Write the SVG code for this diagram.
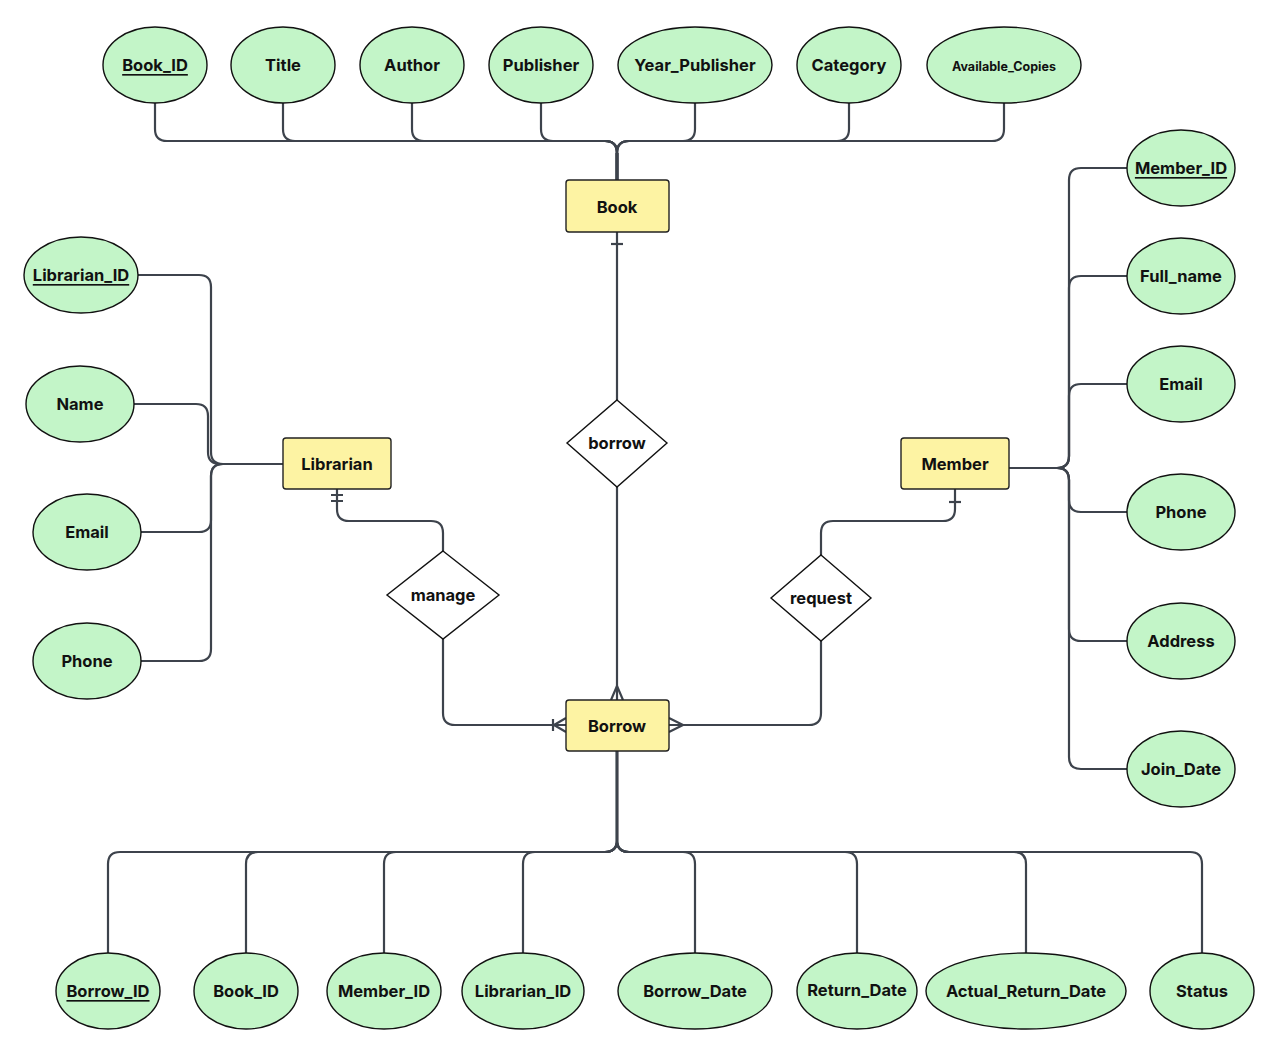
<svg xmlns="http://www.w3.org/2000/svg" width="1280" height="1055" viewBox="0 0 1280 1055">
<style>
.conn{fill:none;stroke:#3d434c;stroke-width:2.2;stroke-linejoin:round}
.attr ellipse{fill:#c3f5c8;stroke:#111;stroke-width:1.4}
.ent rect{fill:#fdf3a3;stroke:#222;stroke-width:1.4}
.rel polygon{fill:#fff;stroke:#111;stroke-width:1.4}
text{font-family:Inter,"Liberation Sans",sans-serif;font-weight:700;font-size:16.5px;fill:#111;text-anchor:middle;dominant-baseline:central}
.key{text-decoration:underline}
.small{font-size:12.5px}
</style>
<rect width="1280" height="1055" fill="#fff"/>
<g id="connectors" class="conn">
<path d="M155,103 V129 Q155,141 167,141 H605 Q617,141 617,153 V180"/>
<path d="M283,103 V129 Q283,141 295,141 H605 Q617,141 617,153 V180"/>
<path d="M412,103 V129 Q412,141 424,141 H605 Q617,141 617,153 V180"/>
<path d="M541,103 V129 Q541,141 553,141 H605 Q617,141 617,153 V180"/>
<path d="M695,103 V129 Q695,141 683,141 H629 Q617,141 617,153 V180"/>
<path d="M849,103 V129 Q849,141 837,141 H629 Q617,141 617,153 V180"/>
<path d="M1004,103 V129 Q1004,141 992,141 H629 Q617,141 617,153 V180"/>
<path d="M617,153 V180" style="stroke-width:3.4"/>
<path d="M138,275 H199 Q211,275 211,287 V452 Q211,464 223,464 H283"/>
<path d="M134,404 H196 Q208,404 208,416 V452 Q208,464 220,464 H283"/>
<path d="M141,532 H199 Q211,532 211,520 V476 Q211,464 223,464 H283"/>
<path d="M141,661 H199 Q211,661 211,649 V476 Q211,464 223,464 H283"/>
<path d="M1009,468 H1057 Q1069,468 1069,456 V180 Q1069,168 1081,168 H1127"/>
<path d="M1009,468 H1057 Q1069,468 1069,456 V288 Q1069,276 1081,276 H1127"/>
<path d="M1009,468 H1057 Q1069,468 1069,456 V396 Q1069,384 1081,384 H1127"/>
<path d="M1009,468 H1057 Q1069,468 1069,480 V500 Q1069,512 1081,512 H1127"/>
<path d="M1009,468 H1057 Q1069,468 1069,480 V629 Q1069,641 1081,641 H1127"/>
<path d="M1009,468 H1057 Q1069,468 1069,480 V757 Q1069,769 1081,769 H1127"/>
<path d="M617,751 V840 Q617,852 605,852 H120 Q108,852 108,864 V953"/>
<path d="M617,751 V840 Q617,852 605,852 H258 Q246,852 246,864 V953"/>
<path d="M617,751 V840 Q617,852 605,852 H396 Q384,852 384,864 V953"/>
<path d="M617,751 V840 Q617,852 605,852 H535 Q523,852 523,864 V953"/>
<path d="M617,751 V840 Q617,852 629,852 H683 Q695,852 695,864 V953"/>
<path d="M617,751 V840 Q617,852 629,852 H845 Q857,852 857,864 V953"/>
<path d="M617,751 V840 Q617,852 629,852 H1014 Q1026,852 1026,864 V953"/>
<path d="M617,751 V840 Q617,852 629,852 H1190 Q1202,852 1202,864 V953"/>
<path d="M617,232 V400"/>
<path d="M611,244 H623"/>
<path d="M617,487 V700"/>
<path d="M611,700 L617,686 L623,700"/>
<path d="M337,489 V509 Q337,521 349,521 H431 Q443,521 443,533 V551"/>
<path d="M331,495 H343 M331,501 H343"/>
<path d="M443,639 V713 Q443,725 455,725 H566"/>
<path d="M553,719 V731 M566,718 L554,725 L566,732"/>
<path d="M955,489 V509 Q955,521 943,521 H833 Q821,521 821,533 V555"/>
<path d="M949,502 H961"/>
<path d="M821,641 V713 Q821,725 809,725 H669"/>
<path d="M669,718 L683,725 L669,732"/>
</g>
<g id="book" class="ent"><rect x="566" y="180" width="103" height="52" rx="3"/><text x="617" y="207">Book</text></g>
<g id="librarian" class="ent"><rect x="283" y="438" width="108" height="51" rx="3"/><text x="337" y="464">Librarian</text></g>
<g id="member" class="ent"><rect x="901" y="438" width="108" height="51" rx="3"/><text x="955" y="464">Member</text></g>
<g id="borrow" class="ent"><rect x="566" y="700" width="103" height="51" rx="3"/><text x="617" y="726">Borrow</text></g>
<g id="rel-borrow" class="rel"><polygon points="617,400 667,443 617,487 567,443"/><text x="617" y="443">borrow</text></g>
<g id="rel-manage" class="rel"><polygon points="443,551 499,595 443,639 387,595"/><text x="443" y="595">manage</text></g>
<g id="rel-request" class="rel"><polygon points="821,555 871,598 821,641 771,598"/><text x="821" y="598">request</text></g>
<g id="a-book-id" class="attr"><ellipse cx="155" cy="65" rx="52" ry="38"/><text x="155" y="65" class="key">Book_ID</text></g>
<g id="a-title" class="attr"><ellipse cx="283" cy="65" rx="52" ry="38"/><text x="283" y="65">Title</text></g>
<g id="a-author" class="attr"><ellipse cx="412" cy="65" rx="52" ry="38"/><text x="412" y="65">Author</text></g>
<g id="a-publisher" class="attr"><ellipse cx="541" cy="65" rx="52" ry="38"/><text x="541" y="65">Publisher</text></g>
<g id="a-year" class="attr"><ellipse cx="695" cy="65" rx="77" ry="38"/><text x="695" y="65">Year_Publisher</text></g>
<g id="a-category" class="attr"><ellipse cx="849" cy="65" rx="52" ry="38"/><text x="849" y="65">Category</text></g>
<g id="a-copies" class="attr"><ellipse cx="1004" cy="65" rx="77" ry="38"/><text x="1004" y="66" class="small">Available_Copies</text></g>
<g id="a-lib-id" class="attr"><ellipse cx="81" cy="275" rx="57" ry="38"/><text x="81" y="275" class="key">Librarian_ID</text></g>
<g id="a-lib-name" class="attr"><ellipse cx="80" cy="404" rx="54" ry="38"/><text x="80" y="404">Name</text></g>
<g id="a-lib-email" class="attr"><ellipse cx="87" cy="532" rx="54" ry="38"/><text x="87" y="532">Email</text></g>
<g id="a-lib-phone" class="attr"><ellipse cx="87" cy="661" rx="54" ry="38"/><text x="87" y="661">Phone</text></g>
<g id="a-mem-id" class="attr"><ellipse cx="1181" cy="168" rx="54" ry="38"/><text x="1181" y="168" class="key">Member_ID</text></g>
<g id="a-mem-name" class="attr"><ellipse cx="1181" cy="276" rx="54" ry="38"/><text x="1181" y="276">Full_name</text></g>
<g id="a-mem-email" class="attr"><ellipse cx="1181" cy="384" rx="54" ry="38"/><text x="1181" y="384">Email</text></g>
<g id="a-mem-phone" class="attr"><ellipse cx="1181" cy="512" rx="54" ry="38"/><text x="1181" y="512">Phone</text></g>
<g id="a-mem-address" class="attr"><ellipse cx="1181" cy="641" rx="54" ry="38"/><text x="1181" y="641">Address</text></g>
<g id="a-mem-join" class="attr"><ellipse cx="1181" cy="769" rx="54" ry="38"/><text x="1181" y="769">Join_Date</text></g>
<g id="a-bor-id" class="attr"><ellipse cx="108" cy="991" rx="52" ry="38"/><text x="108" y="991" class="key">Borrow_ID</text></g>
<g id="a-bor-book" class="attr"><ellipse cx="246" cy="991" rx="52" ry="38"/><text x="246" y="991">Book_ID</text></g>
<g id="a-bor-member" class="attr"><ellipse cx="384" cy="991" rx="57" ry="38"/><text x="384" y="991">Member_ID</text></g>
<g id="a-bor-lib" class="attr"><ellipse cx="523" cy="991" rx="61" ry="38"/><text x="523" y="991">Librarian_ID</text></g>
<g id="a-bor-date" class="attr"><ellipse cx="695" cy="991" rx="77" ry="38"/><text x="695" y="991">Borrow_Date</text></g>
<g id="a-bor-return" class="attr"><ellipse cx="857" cy="991" rx="60" ry="38"/><text x="857" y="990">Return_Date</text></g>
<g id="a-bor-actual" class="attr"><ellipse cx="1026" cy="991" rx="100" ry="38"/><text x="1026" y="991">Actual_Return_Date</text></g>
<g id="a-bor-status" class="attr"><ellipse cx="1202" cy="991" rx="52" ry="38"/><text x="1202" y="991">Status</text></g>
</svg>
